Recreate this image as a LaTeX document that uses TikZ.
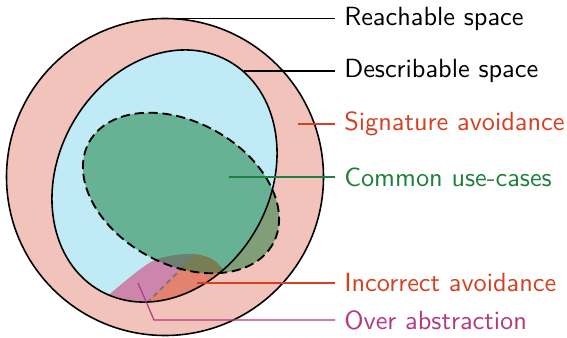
\documentclass[tikz,border=0pt]{standalone}
\usepackage{fontspec}
\definecolor{reachfill}{RGB}{242,195,186}
\definecolor{descfill}{RGB}{193,234,247}
\definecolor{usegreen}{RGB}{15,122,53}
\definecolor{overfill}{RGB}{204,133,172}
\definecolor{incfill}{RGB}{227,131,111}
\definecolor{sigred}{RGB}{214,64,34}
\definecolor{cugreen}{RGB}{30,128,60}
\definecolor{overmag}{RGB}{178,58,128}
\begin{document}
\begin{tikzpicture}[x=0.3802pt,y=-0.3802pt,
  outline/.style={draw=black,line width=0.6pt},
  leader/.style={line width=0.45pt},
  lbl/.style={anchor=west,font=\sffamily,inner sep=3.33pt},
  descrot/.style={rotate around={61:(D)}},
  greenrot/.style={rotate around={-29:(G)}}]
\useasboundingbox (0,0) rectangle (567,337);
\coordinate (C) at (165,177);
\coordinate (D) at (164.5,176);
\coordinate (G) at (181,193);
% reachable space
\fill[reachfill] (C) circle [radius=158.5];
\draw[outline] (C) circle [radius=158.5];
% describable space
\fill[descfill,descrot] (D) ellipse [x radius=131.6, y radius=106];
\begin{scope}
  \clip[descrot] (D) ellipse [x radius=131.6, y radius=106];
  \fill[incfill] plot[smooth] coordinates {(98,306) (110,294) (153,261) (190,254) (210,258) (222,268) (236,290)} -- (236,335) -- (98,335) -- cycle;
  \begin{scope}
    \clip (117,331) -- (215,235) -- (60,235) -- (60,331) -- cycle;
    \fill[overfill] plot[smooth] coordinates {(98,306) (110,294) (153,261) (190,254) (210,258) (222,268) (236,290)} -- (236,335) -- (98,335) -- cycle;
  \end{scope}
  \coordinate (dA) at (147,303);
  \coordinate (dB) at (184,266);
  \draw[black!55,line width=0.6pt,dash pattern=on 2pt off 1.5pt] (dA) -- (dB);
\end{scope}
% common use-cases
\fill[usegreen,fill opacity=0.5,greenrot] (G) ellipse [x radius=105, y radius=71];
\draw[black,line width=0.7pt,dash pattern=on 3.5pt off 1.8pt,greenrot] (G) ellipse [x radius=105, y radius=71];
\draw[outline,descrot] (D) ellipse [x radius=131.6, y radius=106];
% labels
\coordinate (rS) at (165,18.5);
\node[lbl] (rL) at (335,18.5) {Reachable space};
\draw[leader] (rS) -- (rL.west);
\coordinate (dS) at (244,71);
\node[lbl] (dL) at (335,71) {Describable space};
\draw[leader] (dS) -- (dL.west);
\coordinate (sS) at (298,124);
\node[lbl,text=sigred] (sL) at (335,124) {Signature avoidance};
\draw[leader,sigred] (sS) -- (sL.west);
\coordinate (cS) at (229,177);
\node[lbl,text=cugreen] (cL) at (335,177) {Common use-cases};
\draw[leader,cugreen] (cS) -- (cL.west);
\coordinate (iS) at (197,283);
\node[lbl,text=sigred] (iL) at (335,283) {Incorrect avoidance};
\draw[leader,sigred] (iS) -- (iL.west);
\coordinate (oS) at (138,283);
\coordinate (oK) at (154,320);
\node[lbl,text=overmag] (oL) at (335,320) {Over abstraction};
\draw[leader,overmag] (oS) -- (oK) -- (oL.west);
\end{tikzpicture}
\end{document}
